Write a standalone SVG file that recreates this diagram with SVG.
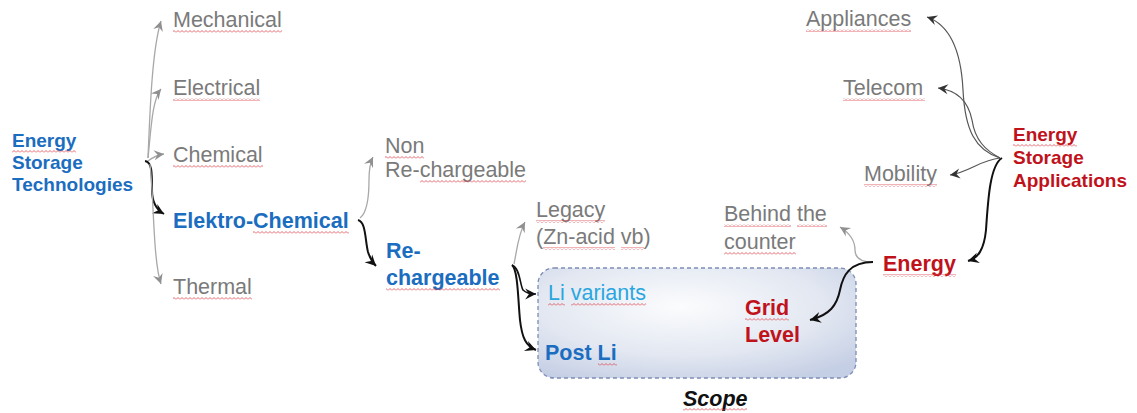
<svg xmlns="http://www.w3.org/2000/svg" width="1137" height="413" viewBox="0 0 1137 413">
<style>
text{font-family:"Liberation Sans",Arial,sans-serif;}
.g{fill:#7a7a7a;font-size:21.5px;}
.b{fill:#1b6dbf;font-size:21.5px;font-weight:bold;}
.bs{fill:#1b6dbf;font-size:19px;font-weight:bold;}
.r{fill:#c0121b;font-size:21.5px;font-weight:bold;}
.rs{fill:#c0121b;font-size:19px;font-weight:bold;}
.lb{fill:#2aa6e0;font-size:21.5px;}
.sc{fill:#111;font-size:21.5px;font-weight:bold;font-style:italic;}
.cg{fill:none;stroke:#a8a8a8;stroke-width:1.3;marker-end:url(#ag);}
.cd{fill:none;stroke:#555;stroke-width:1.2;marker-end:url(#ad);}
.ck{fill:none;stroke:#111;stroke-width:2;marker-end:url(#ak);}
.sq{fill:url(#sqp);}
</style>
<defs>
<pattern id="sqp" x="0" y="0" width="4" height="3" patternUnits="userSpaceOnUse">
<path d="M0,2.5 L2,0.5 L4,2.5" fill="none" stroke="#e0404a" stroke-width="0.8"/>
</pattern>
<marker id="ag" viewBox="-11 -6 12 12" refX="0" refY="0" markerWidth="12" markerHeight="12" markerUnits="userSpaceOnUse" orient="auto">
<path d="M0,0 L-10,-5 L-6.5,0 L-10,5 z" fill="#909090"/>
</marker>
<marker id="ad" viewBox="-11 -6 12 12" refX="0" refY="0" markerWidth="12" markerHeight="12" markerUnits="userSpaceOnUse" orient="auto">
<path d="M0,0 L-10,-5 L-6.5,0 L-10,5 z" fill="#333"/>
</marker>
<marker id="ak" viewBox="-11 -6 12 12" refX="0" refY="0" markerWidth="13" markerHeight="13" markerUnits="userSpaceOnUse" orient="auto">
<path d="M0,0 L-10,-5 L-6.5,0 L-10,5 z" fill="#111"/>
</marker>
<radialGradient id="scopeFill" cx="0.45" cy="0.35" r="0.75" fx="0.45" fy="0.35">
<stop offset="0" stop-color="#fbfcfd"/>
<stop offset="0.6" stop-color="#e2e7f1"/>
<stop offset="1" stop-color="#c4cee4"/>
</radialGradient>
</defs>

<g id="scope">
<rect x="538" y="268" width="318" height="110" rx="16" fill="url(#scopeFill)" stroke="#7d8db4" stroke-width="1.3" stroke-dasharray="4 3"/>
<text class="sc" x="683" y="406">Scope</text>
<rect class="sq" x="683" y="408" width="64" height="3"/>
</g>

<g id="connectors">
<path class="cg" d="M148,158 C150,110 152,50 161,21"/>
<path class="cg" d="M148,158 C151,130 152,100 161,89"/>
<path class="cg" d="M148,161 C152,158 156,155 164,154"/>
<path class="ck" d="M145,161 C152,162 152,172 152,190 C152,203 157,210 164,214"/>
<path class="cg" d="M150,164 C154,200 153,260 161,284"/>
<path class="cg" d="M360,218 C368,212 369,195 369,180 C369,170 370,163 373,157"/>
<path class="ck" d="M358,220 C366,222 365,240 368,252 C370,258 372,262 376,266"/>
<path class="cg" d="M514,264 C517,250 518,235 525,222"/>
<path class="ck" style="stroke-width:1.6" d="M512,265 C520,268 520,285 523,290 C526,293 530,294 536,294"/>
<path class="ck" d="M512,265 C518,270 518,300 520,320 C522,338 526,346 536,350"/>
<path class="cd" d="M1000,158 C975,150 965,130 963,90 C961,50 950,25 927,17"/>
<path class="cd" d="M1000,158 C985,150 975,140 972,120 C968,100 955,90 938,88"/>
<path class="cd" d="M1000,158 C980,160 970,172 950,175"/>
<path class="ck" d="M1002,158 C990,165 988,200 986,230 C984,250 978,258 968,261"/>
<path class="cg" d="M873,262 C860,262 855,258 855,250 C855,240 848,232 840,227"/>
<path class="ck" d="M873,262 C850,262 843,275 840,290 C837,305 830,315 810,320"/>
</g>

<g id="est">
<text class="bs" x="12" y="147">Energy</text>
<text class="bs" x="12" y="169">Storage</text>
<text class="bs" x="12" y="191">Technologies</text>
<rect class="sq" x="12" y="150" width="64" height="3"/>
</g>
<g id="mechanical"><text class="g" x="173" y="27">Mechanical</text><rect class="sq" x="173" y="30" width="109" height="3"/></g>
<g id="electrical"><text class="g" x="173" y="95">Electrical</text><rect class="sq" x="173" y="98" width="87" height="3"/></g>
<g id="chemical"><text class="g" x="173" y="162">Chemical</text><rect class="sq" x="173" y="165" width="90" height="3"/></g>
<g id="elektro"><text class="b" x="173" y="228">Elektro-Chemical</text><rect class="sq" x="253" y="231" width="96" height="3"/></g>
<g id="thermal"><text class="g" x="173" y="294">Thermal</text><rect class="sq" x="173" y="297" width="79" height="3"/></g>

<g id="nonrech">
<text class="g" x="385" y="153">Non</text>
<text class="g" x="385" y="177">Re-chargeable</text>
<rect class="sq" x="385" y="156" width="39" height="3"/>
<rect class="sq" x="420" y="180" width="106" height="3"/>
</g>
<g id="rech">
<text class="b" x="386" y="258">Re-</text>
<text class="b" x="386" y="285">chargeable</text>
<rect class="sq" x="386" y="288" width="114" height="3"/>
</g>
<g id="legacy">
<text class="g" x="536" y="217">Legacy</text>
<text class="g" x="536" y="244">(Zn-acid vb)</text>
<rect class="sq" x="536" y="220" width="69" height="3"/>
<rect class="sq" x="543" y="247" width="72" height="3"/>
<rect class="sq" x="621" y="247" width="23" height="3"/>
</g>
<g id="livariants">
<text class="lb" x="548" y="300">Li variants</text>
<rect class="sq" x="548" y="303" width="17" height="3"/>
<rect class="sq" x="571" y="303" width="75" height="3"/>
</g>
<g id="postli">
<text class="b" x="545" y="360">Post Li</text>
<rect class="sq" x="598" y="363" width="19" height="3"/>
</g>
<g id="grid">
<text class="r" x="745" y="315">Grid</text>
<text class="r" x="745" y="342">Level</text>
<rect class="sq" x="745" y="318" width="44" height="3"/>
</g>

<g id="appliances"><text class="g" x="806" y="26">Appliances</text><rect class="sq" x="806" y="29" width="105" height="3"/></g>
<g id="telecom"><text class="g" x="843" y="95">Telecom</text><rect class="sq" x="843" y="98" width="82" height="3"/></g>
<g id="mobility"><text class="g" x="864" y="181">Mobility</text><rect class="sq" x="864" y="184" width="73" height="3"/></g>
<g id="esa">
<text class="rs" x="1013" y="141">Energy</text>
<text class="rs" x="1013" y="164">Storage</text>
<text class="rs" x="1013" y="187">Applications</text>
<rect class="sq" x="1013" y="144" width="64" height="3"/>
</g>
<g id="behind">
<text class="g" x="724" y="221">Behind the</text>
<text class="g" x="724" y="249">counter</text>
<rect class="sq" x="724" y="224" width="67" height="3"/>
<rect class="sq" x="797" y="224" width="30" height="3"/>
<rect class="sq" x="724" y="252" width="72" height="3"/>
</g>
<g id="energy">
<text class="r" x="883" y="271">Energy</text>
<rect class="sq" x="883" y="274" width="73" height="3"/>
</g>
</svg>
